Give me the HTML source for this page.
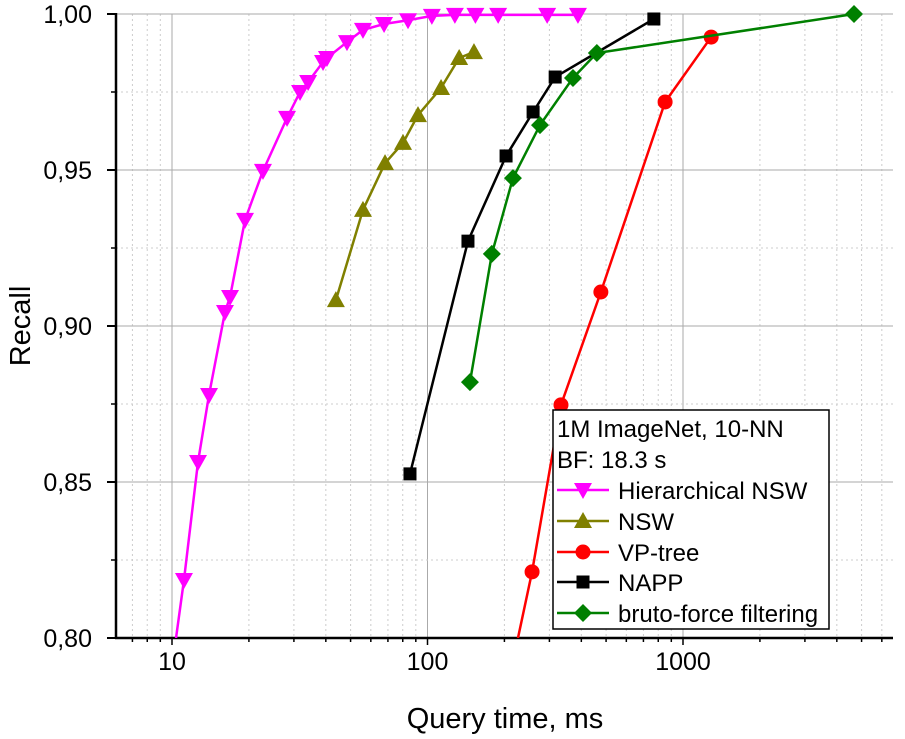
<!DOCTYPE html>
<html><head><meta charset="utf-8"><style>
body{margin:0;background:#fff}
svg{display:block;font-family:"Liberation Sans",Arial,sans-serif}
</style></head><body>
<svg id="chart" width="905" height="739" viewBox="0 0 905 739"></svg>
<script>
const seriesNames=["Hierarchical NSW","NSW","VP-tree","NAPP","bruto-force filtering"];
const seriesColors=["#ff00ff","#808000","#ff0000","#000000","#008000"];
const seriesMarkers=["tri-down","tri-up","circle","square","diamond"];
const hnswX=[10.37,11.14,12.64,13.96,16.12,16.87,19.31,22.7,28.2,31.7,34.1,39.0,40.4,48.4,55.9,67.6,83.9,104,128,154,189,294,388];
const hnswY=[0.80,0.8186,0.8564,0.8779,0.9045,0.9093,0.934,0.9497,0.9667,0.975,0.9782,0.9846,0.9859,0.991,0.9949,0.9968,0.998,0.9994,0.9997,0.9997,0.9997,0.9997,0.9997];
const nswX=[43.8,55.9,68.2,80.2,91.8,113,133,152];
const nswY=[0.9083,0.9372,0.9522,0.9587,0.9676,0.9763,0.9859,0.9878];
const vpX=[226,256.6,333,477,851,1289];
const vpY=[0.80,0.8212,0.8747,0.9109,0.9718,0.9926];
const nappX=[85.4,144,203,259,316,769];
const nappY=[0.8526,0.9272,0.9545,0.9686,0.9798,0.9984];
const bfX=[146.6,178.6,216,275.6,371,460,4670];
const bfY=[0.882,0.9231,0.9474,0.9644,0.9795,0.9875,1.0];
const yTicks=[0.80,0.85,0.90,0.95,1.00];
const yTickLabels=["0,80","0,85","0,90","0,95","1,00"];
const xTicks=[10,100,1000];
const xTickLabels=["10","100","1000"];
const markerFirst=[1,0,1,0,0];

const NS="http://www.w3.org/2000/svg";
const svg=document.getElementById("chart");
const L=116,R=893,T=14,B=638;
const x0=172,dec=255.5;
function xs(v){return x0+(Math.log10(v)-1)*dec;}
function ys(v){return B-(v-0.80)/0.20*(B-T);}
function el(t,a,p){const e=document.createElementNS(NS,t);for(const k in a)e.setAttribute(k,a[k]);(p||svg).appendChild(e);return e;}
const defs=el("defs",{});const cp=el("clipPath",{id:"clip"},defs);el("rect",{x:L,y:T-10,width:R-L,height:B-T+10},cp);

const grid=el("g",{});


for(let d=1;d<=1000;d*=10){for(let m=1;m<=9;m++){const v=d*m;const x=xs(v);if(x<L||x>R)continue;
 if(m===1&&d>=10&&d<=1000){el("line",{x1:x,y1:T,x2:x,y2:B,stroke:"#aaa","stroke-width":1},grid);}
 else el("line",{x1:x,y1:T,x2:x,y2:B,stroke:"#ccc","stroke-width":1,"stroke-dasharray":"2,3"},grid);
 el("line",{x1:x,y1:B,x2:x,y2:B+(m===1?7:4),stroke:"#000","stroke-width":1.5},svg);
}}
for(let i=0;i<yTicks.length;i++){const y=ys(yTicks[i]);
 el("line",{x1:L,y1:y,x2:R,y2:y,stroke:"#aaa","stroke-width":1},grid);
 el("line",{x1:L-9,y1:y,x2:L,y2:y,stroke:"#000","stroke-width":2},svg);
 const t=el("text",{x:L-24,y:y+9,"text-anchor":"end","font-size":"25"});t.textContent=yTickLabels[i];
 
 
 if(i<yTicks.length-1){const ym=ys(yTicks[i]+0.025);
  el("line",{x1:L,y1:ym,x2:R,y2:ym,stroke:"#ccc","stroke-width":1,"stroke-dasharray":"2,3"},grid);
  el("line",{x1:L-5,y1:ym,x2:L,y2:ym,stroke:"#000","stroke-width":1.5},svg);}
}
for(let i=0;i<xTicks.length;i++){const t=el("text",{x:xs(xTicks[i]),y:B+32,"text-anchor":"middle","font-size":"25"});t.textContent=xTickLabels[i];
 
 }
el("line",{x1:L,y1:T-1,x2:L,y2:B+1,stroke:"#000","stroke-width":2.5});
el("line",{x1:L-1,y1:B,x2:R,y2:B,stroke:"#000","stroke-width":2.5});

function marker(g,type,x,y,c){
 if(type==="tri-down")el("polygon",{points:`${x-9},${y-7} ${x+9},${y-7} ${x},${y+9}`,fill:c},g);
 else if(type==="tri-up")el("polygon",{points:`${x-9},${y+7} ${x+9},${y+7} ${x},${y-9}`,fill:c},g);
 else if(type==="circle")el("circle",{cx:x,cy:y,r:7.5,fill:c},g);
 else if(type==="square")el("rect",{x:x-6.5,y:y-6.5,width:13,height:13,fill:c},g);
 else el("polygon",{points:`${x},${y-9} ${x+9},${y} ${x},${y+9} ${x-9},${y}`,fill:c},g);
}
const allX=[hnswX,nswX,vpX,nappX,bfX],allY=[hnswY,nswY,vpY,nappY,bfY];
for(let s=0;s<5;s++){
 const g=el("g",{"clip-path":"url(#clip)"});
 
 
 const pts=allX[s].map((v,i)=>xs(v)+","+ys(allY[s][i])).join(" ");
 el("polyline",{points:pts,fill:"none",stroke:seriesColors[s],"stroke-width":2.5},g);
 for(let i=markerFirst[s];i<allX[s].length;i++){
  const m=el("g",{},g);
  
  
  marker(m,seriesMarkers[s],xs(allX[s][i]),ys(allY[s][i]),seriesColors[s]);}
}
const lg=el("g",{});


el("rect",{x:553,y:410,width:276,height:219,fill:"#fff",stroke:"#000","stroke-width":1.5},lg);
const h1=el("text",{x:557,y:437,"font-size":"24"},lg);h1.textContent="1M ImageNet, 10-NN";
const h2=el("text",{x:557,y:468,"font-size":"24"},lg);h2.textContent="BF: 18.3 s";
const rows=[490,521,552,582,613];
for(let s=0;s<5;s++){
 const r=el("g",{},lg);
 
 
 el("line",{x1:557,y1:rows[s],x2:609,y2:rows[s],stroke:seriesColors[s],"stroke-width":2.5},r);
 marker(r,seriesMarkers[s],583,rows[s],seriesColors[s]);
 const t=el("text",{x:618,y:rows[s]+9,"font-size":"24"},r);t.textContent=seriesNames[s];
}
const yl=el("text",{x:0,y:0,"font-size":"29","text-anchor":"middle",transform:"translate(30,326) rotate(-90)"});yl.textContent="Recall";


const xl=el("text",{x:505,y:728,"font-size":"29","text-anchor":"middle"});xl.textContent="Query time, ms";


</script>
</body></html>
